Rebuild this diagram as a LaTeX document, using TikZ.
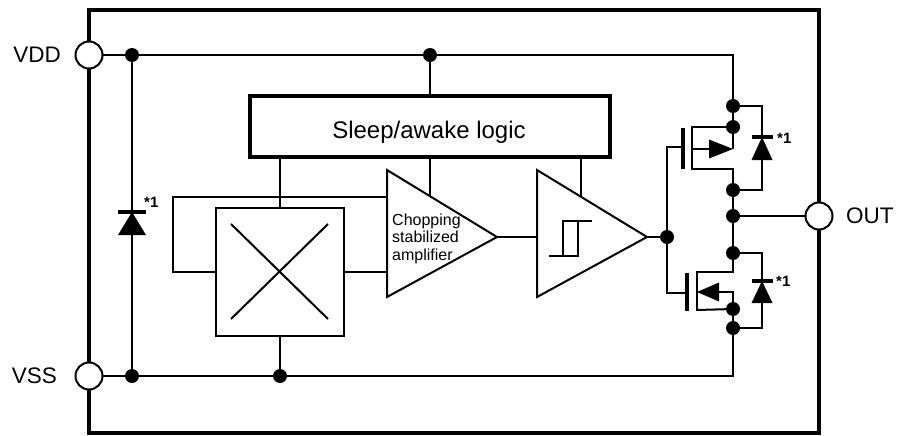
\documentclass[tikz,border=0pt]{standalone}
\usepackage{fontspec}
\setmainfont{Liberation Sans}
\begin{document}
\begin{tikzpicture}[x=1pt,y=-1pt,
  wire/.style={line width=2pt},
  framew/.style={line width=4.3pt},
  dot/.style={circle,fill=black,inner sep=0pt,outer sep=0pt,minimum size=14pt},
  term/.style={circle,draw,line width=2pt,fill=white,inner sep=0pt,outer sep=0pt,minimum size=27pt},
  biglbl/.style={font=\fontsize{22.5}{27}\selectfont,inner sep=0pt},
  starlbl/.style={font=\bfseries\fontsize{15}{17}\selectfont,inner sep=0pt,anchor=west},
  smalllbl/.style={font=\fontsize{16}{18}\selectfont,inner sep=0pt,anchor=base west},
  plate/.style={line width=3.8pt},
  diodebar/.style={line width=3.2pt}
]
\useasboundingbox (0,0) rectangle (900,436);

% outer frame
\draw[framew] (89,10) rectangle (819,433);

% terminals
\node[term] (vdd) at (89,55) {};
\node[term] (vss) at (89,376) {};
\node[term] (out) at (819,216) {};
\node[biglbl,anchor=east] (vddl) at (61,55) {VDD};
\node[biglbl,anchor=east] (vssl) at (57,376) {VSS};
\node[biglbl,anchor=west] (outl) at (846,216) {OUT};

% junction dots
\node[dot] (d1) at (132,55) {};
\node[dot] (d2) at (430,55) {};
\node[dot] (d3) at (132,376) {};
\node[dot] (d4) at (280,376) {};
\node[dot] (d5) at (667,237) {};
\node[dot] (p1) at (733,106) {};
\node[dot] (p2) at (733,127) {};
\node[dot] (p3) at (733,190) {};
\node[dot] (o1) at (733,216) {};
\node[dot] (n1) at (733,253) {};
\node[dot] (n2) at (733,309) {};
\node[dot] (n3) at (733,328) {};

% blocks
\node[draw,line width=3.6pt,minimum width=360pt,minimum height=61pt,inner sep=0pt,outer sep=0pt] (sleep) at (430,126.5) {};
\node[font=\fontsize{24}{28}\selectfont,inner sep=0pt,anchor=base] (sleepl) at (429,139) {Sleep/awake logic};
\node[draw,wire,minimum width=128pt,minimum height=128pt,inner sep=0pt,outer sep=0pt] (hall) at (280,272) {};
\draw[wire] (231,224) -- (328,319) (328,224) -- (231,319);

% amplifier and comparator
\coordinate (at) at (387,170);
\coordinate (ab) at (387,297);
\coordinate (aa) at (497,237);
\coordinate (ct) at (537,170);
\coordinate (cb) at (537,297);
\coordinate (ca) at (647,237);
\draw[wire] (at) -- (aa) -- (ab) -- cycle;
\draw[wire] (ct) -- (ca) -- (cb) -- cycle;
\node[smalllbl] (c1) at (392,225.7) {Chopping};
\node[smalllbl] (c2) at (392,242.9) {stabilized};
\node[smalllbl] (c3) at (392,260) {amplifier};
\draw[wire] (549,256) -- (578,256) -- (578,221);
\draw[wire] (592,221) -- (563,221) -- (563,256);

% supply wires
\draw[wire] (vdd) -- (d1) -- (d2) -- (733,55) -- (p1);
\draw[wire] (vss) -- (d3) -- (d4) -- (733,376) -- (n3);
\draw[wire] (d1) -- (d3);
\draw[wire] (d2) -- (sleep.north);
\draw[wire] (sleep.south -| hall.north) -- (hall.north);
\draw[wire] (hall.south) -- (d4);
\draw[wire] (sleep.south) -- (430,196);
\draw[wire] (581,157) -- (581,197);

% signal wires
\draw[wire] (387,197) -- (173,197) -- (173,272) -- (hall.west);
\draw[wire] (hall.east) -- (387,272);
\draw[wire] (aa) -- (537,237);
\draw[wire] (ca) -- (d5);
\draw[wire] (d5) -- (667,147) -- (683,147);
\draw[wire] (d5) -- (667,293) -- (687,293);

% left protection diode
\fill (132,212) -- (118,235) -- (146,235) -- cycle;
\draw[diodebar] (118,212) -- (146,212);
\node[starlbl] (s1) at (144,202) {*1};

% PMOS
\draw[plate] (683,128) -- (683,169);
\draw[wire] (p2) -- (692,127) -- (692,169) -- (733,169) -- (p3);
\draw[wire] (692,149) -- (709,149);
\fill (709,139.5) -- (733,149) -- (709,158.5) -- cycle;
\draw[wire] (733,149) -- (p2);
\draw[wire] (p1) -- (p2);
\draw[wire] (p3) -- (o1) -- (n1);
\draw[wire] (o1) -- (out);
\draw[wire] (p1) -- (762,106) -- (762,190) -- (p3);
\fill (762,137) -- (751.5,160) -- (772.5,160) -- cycle;
\draw[diodebar] (751.5,137) -- (772.5,137);
\node[starlbl] (s2) at (777,138) {*1};

% NMOS
\draw[plate] (687,273) -- (687,311);
\draw[wire] (n1) -- (733,272) -- (697,272) -- (697,311);
\draw[wire] (697,310) -- (n2);
\fill (697,292) -- (719,282.5) -- (719,301.5) -- cycle;
\draw[wire] (719,292) -- (733,292) -- (n2);
\draw[wire] (n2) -- (n3);
\draw[wire] (n1) -- (762,253) -- (762,328) -- (n3);
\fill (762,281) -- (751.5,303) -- (772.5,303) -- cycle;
\draw[diodebar] (751.5,281) -- (772.5,281);
\node[starlbl] (s3) at (776,281) {*1};
\end{tikzpicture}
\end{document}
